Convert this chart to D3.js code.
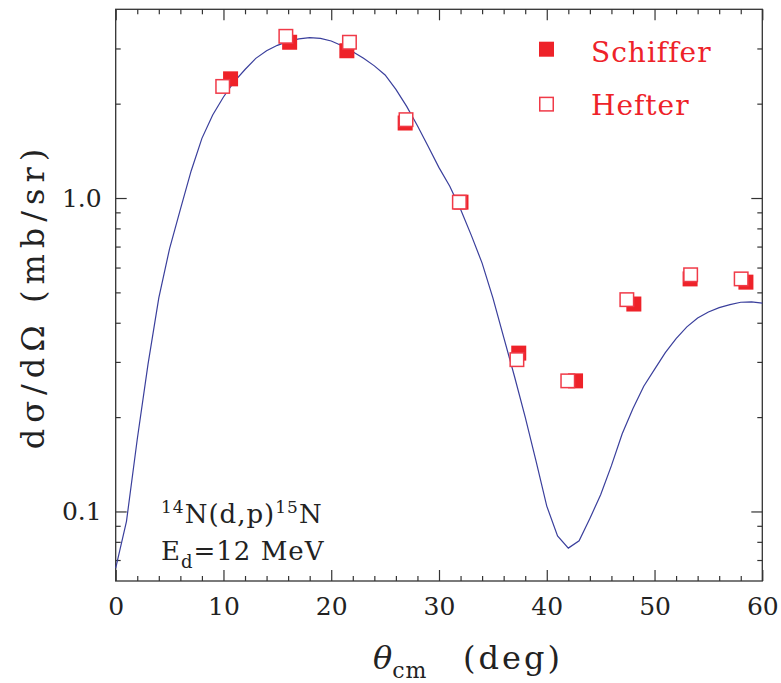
<!DOCTYPE html>
<html>
<head>
<meta charset="utf-8">
<script src="https://cdn.jsdelivr.net/npm/d3@7"></script>
<style>
  body { margin: 0; background: #fff; }
  svg text { font-family: "DejaVu Serif", serif; }
</style>
</head>
<body>
<svg id="chart" width="781" height="683"></svg>
<script>
var curveAngle = d3.range(0, 61);
var curveXsec = [0.066, 0.093, 0.17, 0.295, 0.48, 0.69, 0.92, 1.22, 1.55, 1.84,
  2.10, 2.35, 2.57, 2.79, 2.95, 3.07, 3.16, 3.22, 3.25, 3.23,
  3.17, 3.06, 2.93, 2.79, 2.64, 2.47, 2.22, 1.96, 1.70, 1.46,
  1.25, 1.09, 0.92, 0.76, 0.62, 0.48, 0.36, 0.27, 0.20, 0.145,
  0.104, 0.0836, 0.0764, 0.0806, 0.095, 0.113, 0.14, 0.177, 0.213, 0.251,
  0.284, 0.321, 0.356, 0.388, 0.414, 0.433, 0.447, 0.457, 0.465, 0.466, 0.462];

var schifferAngle = [10.66, 16.14, 21.45, 26.86, 32.04, 37.4, 42.67, 48.08, 53.3, 58.48];
var schifferXsec = [2.40, 3.14, 2.95, 1.735, 0.97, 0.32, 0.261, 0.459, 0.552, 0.539];

var hefterAngle = [9.93, 15.79, 21.69, 26.94, 31.89, 37.23, 41.95, 47.43, 53.35, 58.04];
var hefterXsec = [2.27, 3.28, 3.14, 1.778, 0.97, 0.305, 0.261, 0.474, 0.569, 0.552];

var xTicks = [0, 10, 20, 30, 40, 50, 60];
var yTicks = [0.1, 1.0];
var yTickLabels = ["0.1", "1.0"];

var svg = d3.select("#chart"),
  plotL = 115.7, plotR = 762.3, plotT = 9.3, plotB = 581;

var x = d3.scaleLinear().domain([0, 60]).range([plotL, plotR]);
var y = d3.scaleLog().domain([0.06, 4]).range([plotB, plotT]);

var minorX = d3.range(0, 61, 2).filter(function (d) { return d % 10 !== 0; });
var minorY = [0.07, 0.08, 0.09, 0.2, 0.3, 0.4, 0.5, 0.6, 0.7, 0.8, 0.9, 2, 3];

function styleAxis(g) {
  g.select(".domain").remove();
  g.selectAll(".tick line").attr("stroke", "#333").attr("stroke-width", 1.2);
  g.selectAll(".tick text").attr("fill", "#222").style("font-size", "25px");
}

// bottom
svg.append("g").attr("transform", "translate(0," + plotB + ")")
  .call(d3.axisBottom(x).tickValues(xTicks).tickSize(-11).tickPadding(16).tickFormat(d3.format("d")))
  .call(styleAxis);
svg.append("g").attr("transform", "translate(0," + plotB + ")")
  .call(d3.axisBottom(x).tickValues(minorX).tickSize(-5).tickFormat(""))
  .call(styleAxis);
// top
svg.append("g").attr("transform", "translate(0," + plotT + ")")
  .call(d3.axisTop(x).tickValues(xTicks).tickSize(-11).tickFormat(""))
  .call(styleAxis);
svg.append("g").attr("transform", "translate(0," + plotT + ")")
  .call(d3.axisTop(x).tickValues(minorX).tickSize(-5).tickFormat(""))
  .call(styleAxis);
// left
svg.append("g").attr("transform", "translate(" + plotL + ",0)")
  .call(d3.axisLeft(y).tickValues(yTicks).tickSize(-11).tickPadding(14)
    .tickFormat(function (d, i) { return yTickLabels[i]; }))
  .call(styleAxis);
svg.append("g").attr("transform", "translate(" + plotL + ",0)")
  .call(d3.axisLeft(y).tickValues(minorY).tickSize(-5).tickFormat(""))
  .call(styleAxis);
// right
svg.append("g").attr("transform", "translate(" + plotR + ",0)")
  .call(d3.axisRight(y).tickValues(yTicks).tickSize(-11).tickFormat(""))
  .call(styleAxis);
svg.append("g").attr("transform", "translate(" + plotR + ",0)")
  .call(d3.axisRight(y).tickValues(minorY).tickSize(-5).tickFormat(""))
  .call(styleAxis);

svg.append("rect")
  .attr("x", plotL).attr("y", plotT)
  .attr("width", plotR - plotL).attr("height", plotB - plotT)
  .attr("fill", "none").attr("stroke", "#333").attr("stroke-width", 1.3);

// theory
var line = d3.line()
  .x(function (d, i) { return x(curveAngle[i]); })
  .y(function (d) { return y(d); });

svg.append("path")
  .datum(curveXsec)
  .attr("d", line)
  .attr("fill", "none")
  .attr("stroke", "#3a3f9c")
  .attr("stroke-width", 1.2);

var sq = 15;
var red = "#ee2229";

svg.selectAll(".schiffer")
  .data(schifferXsec)
  .enter().append("rect")
  .attr("class", "schiffer")
  .attr("x", function (d, i) { return x(schifferAngle[i]) - sq / 2; })
  .attr("y", function (d) { return y(d) - sq / 2; })
  .attr("width", sq).attr("height", sq)
  .attr("fill", red);

svg.selectAll(".hefter")
  .data(hefterXsec)
  .enter().append("rect")
  .attr("class", "hefter")
  .attr("x", function (d, i) { return x(hefterAngle[i]) - sq / 2 + 0.75; })
  .attr("y", function (d) { return y(d) - sq / 2 + 0.75; })
  .attr("width", sq - 1.5).attr("height", sq - 1.5)
  .attr("fill", "#fff")
  .attr("stroke", "#f03a48")
  .attr("stroke-width", 1.5);

// legend
svg.append("rect").attr("x", 539).attr("y", 41.7).attr("width", sq).attr("height", sq).attr("fill", red);
svg.append("rect").attr("x", 539.75).attr("y", 97.4).attr("width", sq - 1.5).attr("height", sq - 1.5)
  .attr("fill", "#fff").attr("stroke", "#f03a48").attr("stroke-width", 1.5);
svg.append("text").attr("x", 591).attr("y", 61.5).attr("fill", red)
  .style("font-size", "28px").style("letter-spacing", "1px").text("Schiffer");
svg.append("text").attr("x", 591).attr("y", 115).attr("fill", red)
  .style("font-size", "28px").style("letter-spacing", "1px").text("Hefter");

// reaction label
var r1 = svg.append("text").attr("x", 161).attr("y", 523).attr("fill", "#222")
  .style("font-size", "26px").style("letter-spacing", "1px");
r1.append("tspan").attr("dy", -10).style("font-size", "17px").text("14");
r1.append("tspan").attr("dy", 10).text("N(d,p)");
r1.append("tspan").attr("dy", -10).style("font-size", "17px").text("15");
r1.append("tspan").attr("dy", 10).text("N");

var r2 = svg.append("text").attr("x", 161).attr("y", 560).attr("fill", "#222")
  .style("font-size", "26px").style("letter-spacing", "1px");
r2.append("tspan").text("E");
r2.append("tspan").attr("dy", 8).style("font-size", "18px").text("d");
r2.append("tspan").attr("dy", -8).text("=12 MeV");

// axis titles
var xl = svg.append("text").attr("x", 373).attr("y", 669).attr("fill", "#222")
  .style("font-size", "32px");
xl.append("tspan").style("font-style", "italic").text("θ");
xl.append("tspan").attr("dy", 9).style("font-size", "22px").style("letter-spacing", "1px").text("cm");
xl.append("tspan").attr("dy", -9).attr("x", 463).style("letter-spacing", "3px").text("(deg)");

svg.append("text")
  .attr("transform", "translate(44,296) rotate(-90)")
  .attr("text-anchor", "middle")
  .attr("fill", "#222")
  .style("font-size", "32px")
  .style("letter-spacing", "6px")
  .text("dσ/dΩ (mb/sr)");
</script>
</body>
</html>
